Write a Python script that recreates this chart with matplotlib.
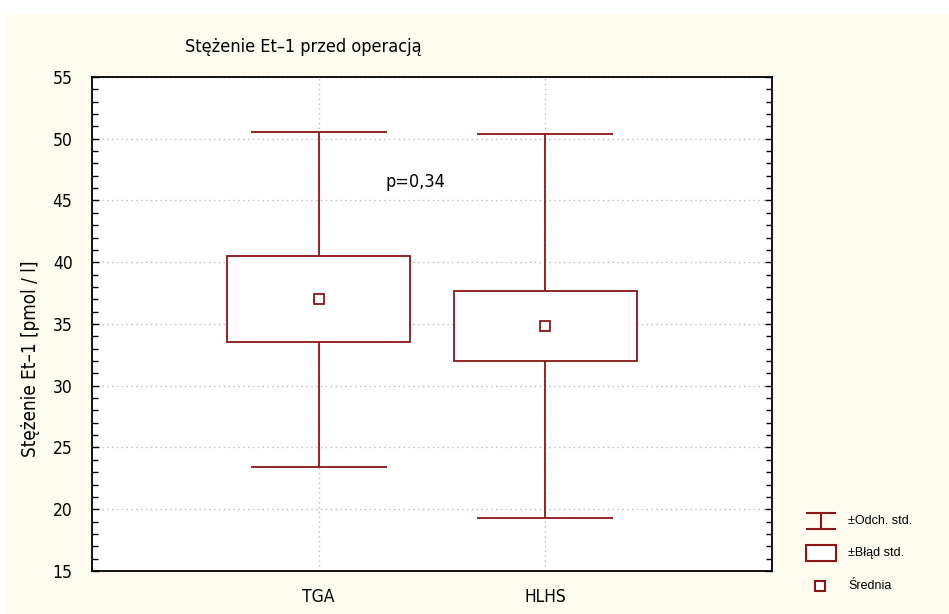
import matplotlib.pyplot as plt
from matplotlib.patches import Rectangle
from matplotlib.ticker import MultipleLocator
from matplotlib import font_manager

# Et-1 before surgery: mean, standard error and standard deviation per group
groups = ["TGA", "HLHS"]
means = [37.0, 34.85]
std_err = [3.48, 2.84]
std_dev = [13.58, 15.54]
p_text = "p=0,34"

dark_red = "#8C1515"
cream = "#FFFCEF"

names = {f.name for f in font_manager.fontManager.ttflist}
narrow = "Liberation Sans Narrow" if "Liberation Sans Narrow" in names else "Liberation Sans"
plt.rcParams["font.family"] = ["DejaVu Sans"]
plt.rcParams["font.stretch"] = "condensed"

fig = plt.figure(figsize=(9.49, 6.14), dpi=100, facecolor="white")
# cream panel behind everything
fig.patches.append(Rectangle((7 / 949, 0), 1, 1 - 14 / 614, transform=fig.transFigure,
                             facecolor=cream, edgecolor="none", zorder=-10))

ax = fig.add_axes([92 / 949, 1 - 571 / 614, 680 / 949, 494 / 614])
ax.set_facecolor("white")
ax.set_xlim(0, 3)
ax.set_ylim(15, 55)

pos = [1, 2]
box_half = 0.403
cap_half = 0.30
for x, m, se, sd in zip(pos, means, std_err, std_dev):
    ax.vlines(x, m - sd, m + sd, color=dark_red, lw=1.3, zorder=3)
    ax.hlines([m - sd, m + sd], x - cap_half, x + cap_half, color=dark_red, lw=1.3, zorder=3)
    ax.add_patch(Rectangle((x - box_half, m - se), 2 * box_half, 2 * se,
                           facecolor="white", edgecolor=dark_red, lw=1.3, zorder=4))
    ax.plot(x, m, marker="s", ms=7, mfc="white", mec=dark_red, mew=1.3, zorder=5)

ax.text(1.425, 46.5, p_text, ha="center", va="center", fontsize=13)

ax.set_xticks(pos)
ax.set_xticklabels(groups)
ax.yaxis.set_major_locator(MultipleLocator(5))
ax.yaxis.set_minor_locator(MultipleLocator(1))
ax.tick_params(axis="y", which="both", direction="in", left=True, right=True, labelsize=12.5, pad=14)
ax.tick_params(axis="y", which="major", length=5, width=1)
ax.tick_params(axis="y", which="minor", length=4, width=1)
ax.tick_params(axis="x", length=0, labelsize=12.5, pad=12)
ax.grid(True, which="major", color="#BBBBBB", linestyle=(0, (1, 2.5)), lw=1)
ax.set_axisbelow(True)
for s in ax.spines.values():
    s.set_linewidth(1.3)

ax.set_ylabel("Stężenie Et–1 [pmol / l]", fontsize=13.5)
ax.yaxis.set_label_coords(-0.076, 0.43)
fig.text(303 / 949, 1 - 47 / 614, "Stężenie Et–1 przed operacją", ha="center", va="center", fontsize=13)

# legend drawn by hand in pixel space
lg = fig.add_axes([0, 0, 1, 1], facecolor="none")
lg.set_xlim(0, 949)
lg.set_ylim(614, 0)
lg.axis("off")
lg.hlines([513, 529], 806, 836, color=dark_red, lw=1.5)
lg.vlines(821, 513, 529, color=dark_red, lw=1.5)
lg.add_patch(Rectangle((806, 545), 30, 16, facecolor="white", edgecolor=dark_red, lw=1.5))
lg.plot(820, 586, marker="s", ms=7, mfc="white", mec=dark_red, mew=1.5)
for y, t in zip([521, 553, 586], ["±Odch. std.", "±Błąd std.", "Średnia"]):
    lg.text(848, y, t, ha="left", va="center", fontsize=9, family=narrow)

fig.savefig("out.png", dpi=100, facecolor=fig.get_facecolor())
